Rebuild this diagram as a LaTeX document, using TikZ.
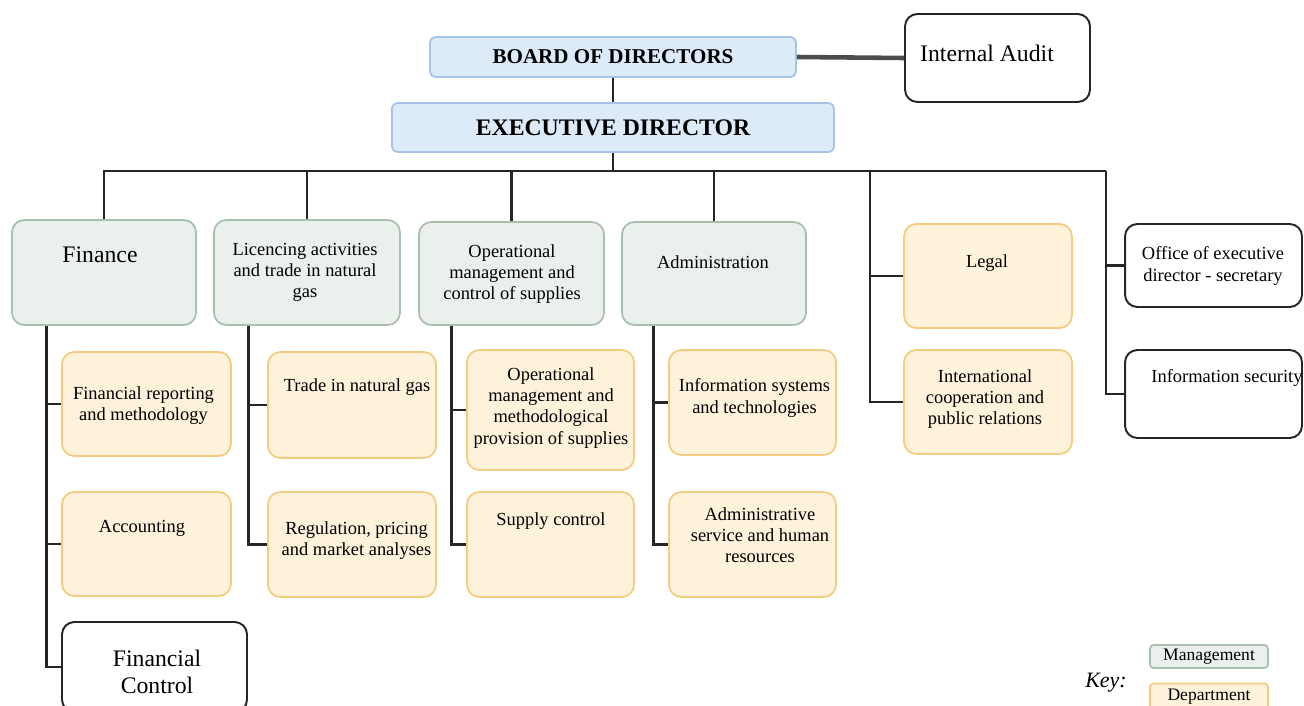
\documentclass[tikz,border=0pt]{standalone}
\usepackage{fontspec}
\setmainfont{Liberation Serif}
\usetikzlibrary{positioning}

\definecolor{topfill}{HTML}{DDEAF8}
\definecolor{topline}{HTML}{A8C3E8}
\definecolor{mgmtfill}{HTML}{EAF1EC}
\definecolor{mgmtline}{HTML}{A9C0AE}
\definecolor{deptfill}{HTML}{FEF2DA}
\definecolor{deptline}{HTML}{F5CB80}

\tikzset{
  topbox/.style={draw=topline, fill=topfill, rounded corners=3pt, line width=1pt},
  mgmt/.style={draw=mgmtline, fill=mgmtfill, rounded corners=7pt, line width=1pt},
  dept/.style={draw=deptline, fill=deptfill, rounded corners=7pt, line width=1pt},
  plainbox/.style={draw=black!85, fill=white, rounded corners=7pt, line width=1.1pt},
  link/.style={line width=1.6pt, black!85},
  txt/.style={align=center, inner sep=0pt, font=\fontsize{10.5}{12}\selectfont},
  bigtxt/.style={align=center, inner sep=0pt, font=\fontsize{13.5}{15.5}\selectfont},
}

\begin{document}
\begin{tikzpicture}[x=0.02cm, y=-0.02cm]
\useasboundingbox (0,0) rectangle (1304,706);

% top of the chart
\node[topbox, minimum width=7.32cm, minimum height=0.8cm, font=\fontsize{12}{14}\selectfont\bfseries] (bod) at (613,57) {BOARD OF DIRECTORS};
\node[topbox, minimum width=8.84cm, minimum height=0.98cm, font=\fontsize{13.5}{15}\selectfont\bfseries] (ed) at (613,127.5) {EXECUTIVE DIRECTOR};
\node[plainbox, minimum width=3.7cm, minimum height=1.76cm] (ia) at (997.5,58) {};
\node[bigtxt] (iaT) at (987,53) {Internal Audit};

% management level
\node[mgmt, minimum width=3.68cm, minimum height=2.1cm] (fin) at (104,272.5) {};
\node[mgmt, minimum width=3.72cm, minimum height=2.1cm] (lic) at (307,272.5) {};
\node[mgmt, minimum width=3.7cm, minimum height=2.06cm] (op) at (511.5,273.5) {};
\node[mgmt, minimum width=3.68cm, minimum height=2.06cm] (adm) at (714,273.5) {};
\node[dept, minimum width=3.36cm, minimum height=2.08cm] (legal) at (988,276) {};
\node[dept, minimum width=3.36cm, minimum height=2.08cm] (intl) at (988,402) {};
\node[plainbox, minimum width=3.54cm, minimum height=1.66cm] (office) at (1213.5,265.5) {};
\node[plainbox, minimum width=3.54cm, minimum height=1.76cm] (infosec) at (1213.5,394) {};

\node[bigtxt] (finT) at (100,255) {Finance};
\node[txt] (licT) at (305,272) {Licencing activities\\and trade in natural\\gas};
\node[txt] (opT) at (512,274) {Operational\\management and\\control of supplies};
\node[txt] (admT) at (713,262) {Administration};
\node[txt] (legalT) at (987,263) {Legal};
\node[txt] (intlT) at (985,399) {International\\cooperation and\\public relations};
\node[txt] (officeT) at (1213,266) {Office of executive\\director - secretary};
\node[txt] (infosecT) at (1227,378) {Information security};

% departments
\node[dept, minimum width=3.38cm, minimum height=2.08cm] (finrep) at (146.5,404) {};
\node[dept, minimum width=3.38cm, minimum height=2.08cm] (acc) at (146.5,544) {};
\node[plainbox, minimum width=3.7cm, minimum height=1.8cm] (finctrl) at (154.5,667) {};
\node[dept, minimum width=3.36cm, minimum height=2.12cm] (trade) at (352,405) {};
\node[dept, minimum width=3.36cm, minimum height=2.1cm] (reg) at (352,544.5) {};
\node[dept, minimum width=3.34cm, minimum height=2.4cm] (opmeth) at (550.5,410) {};
\node[dept, minimum width=3.34cm, minimum height=2.1cm] (supply) at (550.5,544.5) {};
\node[dept, minimum width=3.34cm, minimum height=2.1cm] (infosys) at (752.5,402.5) {};
\node[dept, minimum width=3.34cm, minimum height=2.1cm] (admserv) at (752.5,544.5) {};

\node[txt] (finrepT) at (143.5,406) {Financial reporting\\and methodology};
\node[txt] (accT) at (142,528) {Accounting};
\node[bigtxt] (finctrlT) at (157,672) {Financial\\Control};
\node[txt] (tradeT) at (357,387) {Trade in natural gas};
\node[txt] (regT) at (356.5,541) {Regulation, pricing\\and market analyses};
\node[txt] (opmethT) at (551,408) {Operational\\management and\\methodological\\provision of supplies};
\node[txt] (supplyT) at (551,521) {Supply control};
\node[txt] (infosysT) at (754.5,398) {Information systems\\and technologies};
\node[txt] (admservT) at (760,535) {Administrative\\service and human\\resources};

% key
\node[font=\fontsize{12.5}{14}\selectfont\itshape, inner sep=0pt] (key) at (1106,683) {Key:};
\node[mgmt, rounded corners=2pt, minimum width=2.36cm, minimum height=0.46cm, inner sep=0pt, font=\fontsize{10}{11}\selectfont] (keym) at (1209,656.5) {Management};
\node[dept, rounded corners=2pt, minimum width=2.36cm, minimum height=0.54cm, inner sep=0pt, font=\fontsize{10}{11}\selectfont] (keyd) at (1209,697) {Department};

% connectors
\coordinate (lcol) at (870,171);
\coordinate (rcol) at (1106,171);
\draw[line width=2.6pt, black!70] (bod.east) -- (ia.west);
\draw[link] (bod.south) -- (ed.north);
\draw[link] (ed.south) -- (ed.south |- rcol);
\draw[link] (fin.north) -- (fin.north |- rcol) -- (rcol);
\draw[link] (lic.north) -- (lic.north |- rcol);
\draw[link] (op.north) -- (op.north |- rcol);
\draw[link] (adm.north) -- (adm.north |- rcol);
\draw[link] (lcol) |- (intl.west);
\draw[link] (lcol |- legal.west) -- (legal.west);
\draw[link] (rcol) |- (infosec.west);
\draw[link] (rcol |- office.west) -- (office.west);

\draw[link] ([xshift=0.7cm]fin.south west) |- (finctrl.west);
\draw[link] ([xshift=0.7cm]fin.south west |- finrep.west) -- (finrep.west);
\draw[link] ([xshift=0.7cm]fin.south west |- acc.west) -- (acc.west);
\draw[link] ([xshift=0.7cm]lic.south west) |- (reg.west);
\draw[link] ([xshift=0.7cm]lic.south west |- trade.west) -- (trade.west);
\draw[link] ([xshift=0.66cm]op.south west) |- (supply.west);
\draw[link] ([xshift=0.66cm]op.south west |- opmeth.west) -- (opmeth.west);
\draw[link] ([xshift=0.64cm]adm.south west) |- (admserv.west);
\draw[link] ([xshift=0.64cm]adm.south west |- infosys.west) -- (infosys.west);
\end{tikzpicture}
\end{document}
